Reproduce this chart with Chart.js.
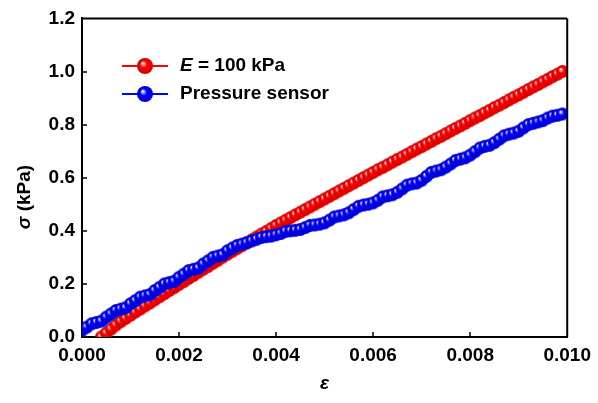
<!DOCTYPE html>
<html>
<head>
<meta charset="utf-8">
<script src="https://cdn.jsdelivr.net/npm/chart.js@4.4.1/dist/chart.umd.min.js"></script>
<style>
  html, body { margin: 0; padding: 0; background: #fff; }
  #stressChart { display: block; }
</style>
</head>
<body>
<canvas id="stressChart" width="598" height="403"></canvas>
<script>
// strain values (ε), shared by both series
var strain = [
    0.0000, 0.0001, 0.0002, 0.0003, 0.0004, 0.0005, 0.0006, 0.0007, 0.0008, 0.0009,
    0.0010, 0.0011, 0.0012, 0.0013, 0.0014, 0.0015, 0.0016, 0.0017, 0.0018, 0.0019,
    0.0020, 0.0021, 0.0022, 0.0023, 0.0024, 0.0025, 0.0026, 0.0027, 0.0028, 0.0029,
    0.0030, 0.0031, 0.0032, 0.0033, 0.0034, 0.0035, 0.0036, 0.0037, 0.0038, 0.0039,
    0.0040, 0.0041, 0.0042, 0.0043, 0.0044, 0.0045, 0.0046, 0.0047, 0.0048, 0.0049,
    0.0050, 0.0051, 0.0052, 0.0053, 0.0054, 0.0055, 0.0056, 0.0057, 0.0058, 0.0059,
    0.0060, 0.0061, 0.0062, 0.0063, 0.0064, 0.0065, 0.0066, 0.0067, 0.0068, 0.0069,
    0.0070, 0.0071, 0.0072, 0.0073, 0.0074, 0.0075, 0.0076, 0.0077, 0.0078, 0.0079,
    0.0080, 0.0081, 0.0082, 0.0083, 0.0084, 0.0085, 0.0086, 0.0087, 0.0088, 0.0089,
    0.0090, 0.0091, 0.0092, 0.0093, 0.0094, 0.0095, 0.0096, 0.0097, 0.0098, 0.0099
];
// σ (kPa) for E = 100 kPa, starts at ε = 0.0004
var stressModel = [
    null, null, null, null, 0.000, 0.015, 0.030, 0.045, 0.058, 0.070,
    0.082, 0.094, 0.105, 0.117, 0.128, 0.140, 0.152, 0.163, 0.175, 0.186,
    0.198, 0.209, 0.221, 0.232, 0.244, 0.255, 0.266, 0.278, 0.289, 0.301,
    0.312, 0.323, 0.334, 0.344, 0.355, 0.366, 0.377, 0.388, 0.398, 0.409,
    0.420, 0.430, 0.440, 0.450, 0.460, 0.470, 0.480, 0.490, 0.500, 0.510,
    0.520, 0.530, 0.540, 0.550, 0.560, 0.570, 0.580, 0.590, 0.600, 0.610,
    0.620, 0.630, 0.639, 0.649, 0.659, 0.669, 0.678, 0.688, 0.698, 0.708,
    0.717, 0.727, 0.737, 0.747, 0.756, 0.766, 0.776, 0.786, 0.795, 0.805,
    0.815, 0.825, 0.834, 0.844, 0.854, 0.864, 0.873, 0.883, 0.893, 0.903,
    0.912, 0.922, 0.932, 0.942, 0.951, 0.961, 0.971, 0.981, 0.990, 1.000
];
// σ (kPa) measured by the pressure sensor
var stressSensor = [
    0.025, 0.037, 0.050, 0.055, 0.060, 0.075, 0.087, 0.100, 0.105, 0.110,
    0.125, 0.137, 0.150, 0.155, 0.160, 0.175, 0.187, 0.200, 0.205, 0.210,
    0.225, 0.237, 0.250, 0.255, 0.260, 0.275, 0.287, 0.300, 0.305, 0.310,
    0.325, 0.335, 0.345, 0.350, 0.355, 0.362, 0.368, 0.375, 0.378, 0.380,
    0.385, 0.390, 0.398, 0.400, 0.402, 0.405, 0.412, 0.420, 0.422, 0.425,
    0.430, 0.440, 0.452, 0.456, 0.460, 0.468, 0.480, 0.492, 0.497, 0.500,
    0.505, 0.515, 0.528, 0.532, 0.536, 0.545, 0.558, 0.572, 0.577, 0.580,
    0.590, 0.605, 0.620, 0.625, 0.630, 0.640, 0.652, 0.665, 0.670, 0.675,
    0.685, 0.698, 0.712, 0.718, 0.722, 0.732, 0.745, 0.758, 0.764, 0.768,
    0.775, 0.788, 0.800, 0.805, 0.810, 0.815, 0.825, 0.832, 0.835, 0.840
];
var xTicks = [0, 0.002, 0.004, 0.006, 0.008, 0.010];
var yTicks = [0, 0.2, 0.4, 0.6, 0.8, 1.0, 1.2];
var seriesNames = ['E = 100 kPa', 'Pressure sensor'];

var FONT = '"Liberation Sans", Arial, sans-serif';
var RED = '#ff0000', BLUE = '#0000ff';

// shaded ball used as marker
function makeBall(color, dark, r) {
    var c = document.createElement('canvas');
    var s = Math.ceil(r * 2) + 2;
    c.width = c.height = s;
    var g = c.getContext('2d');
    var cx = s / 2, cy = s / 2;
    var grad = g.createRadialGradient(cx - r * 0.3, cy - r * 0.35, r * 0.05, cx, cy, r);
    grad.addColorStop(0, '#ffffff');
    grad.addColorStop(0.4, color);
    grad.addColorStop(1, dark);
    g.fillStyle = grad;
    g.beginPath();
    g.arc(cx, cy, r, 0, Math.PI * 2);
    g.fill();
    return c;
}

var redBall = makeBall(RED, '#d00000', 6.5);
var blueBall = makeBall(BLUE, '#0000c8', 6.5);
var redBallBig = makeBall(RED, '#d00000', 8);
var blueBallBig = makeBall(BLUE, '#0000c8', 8);

function toPoints(xs, ys) {
    var pts = [];
    for (var i = 0; i < xs.length; i++) {
        if (ys[i] !== null) pts.push({x: xs[i], y: ys[i]});
    }
    return pts;
}

// frame, inward ticks, axis titles and legend
var decorPlugin = {
    id: 'decor',
    afterDraw: function (chart) {
        var ctx = chart.ctx, a = chart.chartArea;
        var xs = chart.scales.x, ys = chart.scales.y;
        ctx.save();
        ctx.strokeStyle = '#000';
        ctx.lineWidth = 2;
        ctx.beginPath();
        ctx.moveTo(a.left, a.top); ctx.lineTo(a.right, a.top);
        ctx.moveTo(a.right, a.top); ctx.lineTo(a.right, a.bottom);
        ctx.stroke();
        ctx.lineWidth = 1.5;
        ctx.beginPath();
        xTicks.forEach(function (v) {
            var px = Math.round(xs.getPixelForValue(v));
            if (v > 0 && v < 0.01) { ctx.moveTo(px, a.bottom); ctx.lineTo(px, a.bottom - 5); }
        });
        yTicks.forEach(function (v) {
            var py = Math.round(ys.getPixelForValue(v));
            if (v > 0 && v < 1.2) { ctx.moveTo(a.left, py); ctx.lineTo(a.left + 5, py); }
        });
        ctx.stroke();

        // x title
        ctx.fillStyle = '#000';
        ctx.textBaseline = 'middle';
        ctx.textAlign = 'center';
        ctx.font = 'italic bold 19px ' + FONT;
        ctx.fillText('ε', (a.left + a.right) / 2, 384);

        // y title
        ctx.save();
        ctx.translate(25, 197);
        ctx.rotate(-Math.PI / 2);
        ctx.textAlign = 'left';
        ctx.font = 'italic bold 19px ' + FONT;
        var w1 = ctx.measureText('σ').width;
        ctx.font = 'bold 19px ' + FONT;
        var w2 = ctx.measureText(' (kPa)').width;
        var x0 = -(w1 + w2) / 2;
        ctx.font = 'italic bold 19px ' + FONT;
        ctx.fillText('σ', x0, 0);
        ctx.font = 'bold 19px ' + FONT;
        ctx.fillText(' (kPa)', x0 + w1, 0);
        ctx.restore();

        // legend
        var rows = [
            {y: 66, color: RED, ball: redBallBig},
            {y: 94, color: BLUE, ball: blueBallBig}
        ];
        rows.forEach(function (r, i) {
            ctx.strokeStyle = r.color;
            ctx.lineWidth = 2;
            ctx.beginPath();
            ctx.moveTo(122, r.y); ctx.lineTo(168, r.y);
            ctx.stroke();
            ctx.drawImage(r.ball, 145 - r.ball.width / 2, r.y - r.ball.height / 2);
            ctx.fillStyle = '#000';
            ctx.textAlign = 'left';
            if (i === 0) {
                ctx.font = 'italic bold 19px ' + FONT;
                ctx.fillText('E', 180, r.y);
                var we = ctx.measureText('E').width;
                ctx.font = 'bold 19px ' + FONT;
                ctx.fillText(seriesNames[0].slice(1), 180 + we, r.y);
            } else {
                ctx.font = 'bold 19px ' + FONT;
                ctx.fillText(seriesNames[1], 180, r.y);
            }
        });
        ctx.restore();
    }
};

new Chart(document.getElementById('stressChart'), {
    type: 'scatter',
    data: {
        datasets: [
            {
                label: seriesNames[1],
                data: toPoints(strain, stressSensor),
                showLine: true,
                borderColor: BLUE,
                borderWidth: 2,
                pointStyle: blueBall,
                pointRadius: 6.5,
                order: 0
            },
            {
                label: seriesNames[0],
                data: toPoints(strain, stressModel),
                showLine: true,
                borderColor: RED,
                borderWidth: 2,
                pointStyle: redBall,
                pointRadius: 6.5,
                order: 1
            }
        ]
    },
    options: {
        responsive: false,
        animation: false,
        devicePixelRatio: 1,
        layout: {padding: {left: 0, right: 28, top: 16, bottom: 0}},
        plugins: {legend: {display: false}, tooltip: {enabled: false}},
        scales: {
            x: {
                type: 'linear',
                min: 0, max: 0.01,
                afterFit: function (s) { s.height = 66; },
                afterBuildTicks: function (s) { s.ticks = xTicks.map(function (v) { return {value: v}; }); },
                grid: {display: false, drawTicks: false},
                border: {display: true, color: '#000', width: 2},
                ticks: {
                    padding: 7,
                    color: '#000',
                    font: {family: FONT, size: 19, weight: 'bold'},
                    maxRotation: 0,
                    callback: function (v) { return v.toFixed(3); }
                }
            },
            y: {
                type: 'linear',
                min: 0, max: 1.2,
                afterFit: function (s) { s.width = 82; },
                afterBuildTicks: function (s) { s.ticks = yTicks.map(function (v) { return {value: v}; }); },
                grid: {display: false, drawTicks: false},
                border: {display: true, color: '#000', width: 2},
                ticks: {
                    padding: 7,
                    color: '#000',
                    font: {family: FONT, size: 19, weight: 'bold'},
                    callback: function (v) { return v.toFixed(1); }
                }
            }
        }
    },
    plugins: [decorPlugin]
});
</script>
</body>
</html>
